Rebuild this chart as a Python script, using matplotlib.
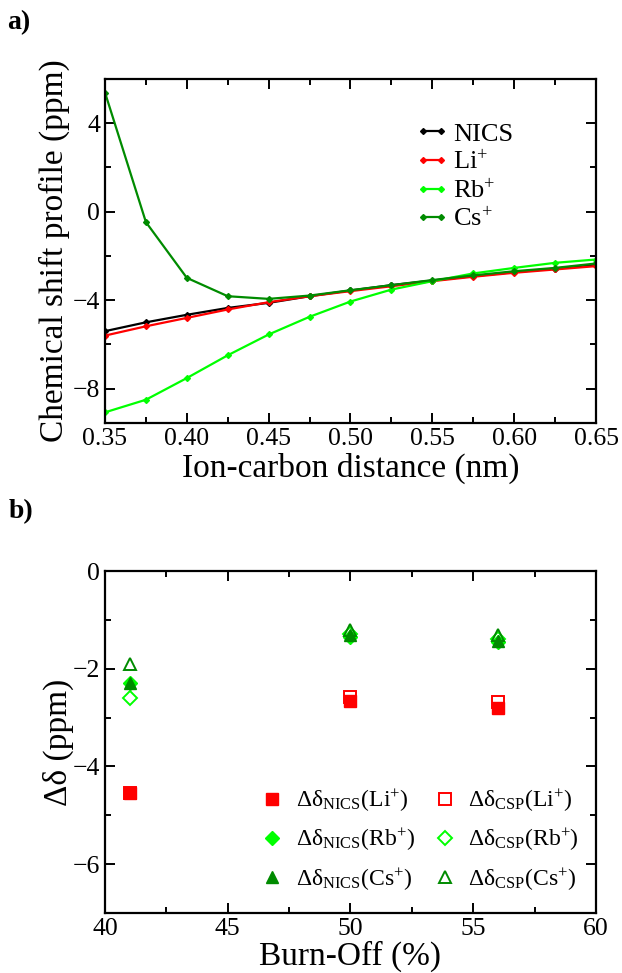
import matplotlib
matplotlib.use('Agg')
import matplotlib.pyplot as plt
from matplotlib.ticker import MultipleLocator

plt.rcParams['font.family'] = ['Liberation Serif', 'DejaVu Serif']
plt.rcParams['mathtext.fontset'] = 'custom'
plt.rcParams['mathtext.rm'] = 'Liberation Serif'
plt.rcParams['mathtext.it'] = 'Liberation Serif:italic'

# panel a: chemical shift profile vs ion-carbon distance
distance = [0.35, 0.375, 0.40, 0.425, 0.45, 0.475, 0.50, 0.525, 0.55, 0.575, 0.60, 0.625, 0.65]
nics = [-5.40, -5.00, -4.66, -4.35, -4.12, -3.82, -3.56, -3.32, -3.11, -2.91, -2.73, -2.57, -2.38]
li = [-5.60, -5.18, -4.80, -4.42, -4.09, -3.82, -3.59, -3.37, -3.14, -2.94, -2.76, -2.61, -2.46]
rb = [-9.07, -8.50, -7.52, -6.49, -5.55, -4.75, -4.06, -3.52, -3.14, -2.79, -2.54, -2.31, -2.16]
cs = [5.39, -0.47, -2.99, -3.82, -3.94, -3.79, -3.55, -3.32, -3.09, -2.88, -2.69, -2.54, -2.34]

# panel b: delta delta vs burn-off
burnoff = [41, 50, 56]
nics_li = [-4.55, -2.67, -2.80]
csp_li = [-4.55, -2.57, -2.69]
nics_rb = [-2.30, -1.35, -1.46]
csp_rb = [-2.59, -1.28, -1.40]
nics_cs = [-2.29, -1.31, -1.43]
csp_cs = [-1.90, -1.20, -1.31]

RED = '#ff0000'
LIME = '#00ff00'
DKGREEN = '#008b00'


def style_axes(ax):
    for s in ax.spines.values():
        s.set_linewidth(1.6)
    ax.tick_params(which='both', direction='in', top=True, right=True,
                   labelsize=18.5, width=1.4)
    ax.tick_params(which='major', length=7)
    ax.tick_params(which='minor', length=4.5)


fig = plt.figure(figsize=(6.22, 9.73), dpi=100)

ax1 = fig.add_axes([0.1688, 0.5653, 0.7894, 0.3535])
ax1.plot(distance, nics, '-D', color='black', lw=1.6, ms=3, label='NICS')
ax1.plot(distance, li, '-D', color=RED, lw=1.6, ms=3, label='Li$^{+}$')
ax1.plot(distance, rb, '-D', color=LIME, lw=1.6, ms=3, label='Rb$^{+}$')
ax1.plot(distance, cs, '-D', color=DKGREEN, lw=1.6, ms=3, label='Cs$^{+}$')
ax1.set_xlim(0.35, 0.65)
ax1.set_ylim(-9.55, 6.0)
ax1.xaxis.set_major_locator(MultipleLocator(0.05))
ax1.xaxis.set_minor_locator(MultipleLocator(0.025))
ax1.yaxis.set_major_locator(MultipleLocator(4))
ax1.yaxis.set_minor_locator(MultipleLocator(2))
ax1.xaxis.set_major_formatter(plt.FormatStrFormatter('%.2f'))
style_axes(ax1)
ax1.set_xlabel('Ion-carbon distance (nm)', fontsize=24, labelpad=2)
ax1.set_ylabel('Chemical shift profile (ppm)', fontsize=24, labelpad=2)
ax1.legend(loc='upper left', bbox_to_anchor=(0.61, 0.905), frameon=False,
           fontsize=19, numpoints=2, handlelength=1.3, handletextpad=0.15,
           labelspacing=0.17, borderaxespad=0)

ax2 = fig.add_axes([0.1688, 0.0617, 0.7894, 0.3514])
ms = 8.5
ax2.plot(burnoff, csp_li, 's', ls='none', mfc='none', mec=RED, mew=1.4, ms=ms)
ax2.plot(burnoff, nics_li, 's', ls='none', color=RED, ms=ms)
ax2.plot(burnoff, nics_rb, 'D', ls='none', color=LIME, ms=ms - 1.5)
ax2.plot(burnoff, csp_rb, 'D', ls='none', mfc='none', mec=LIME, mew=1.4, ms=ms - 1.5)
ax2.plot(burnoff, nics_cs, '^', ls='none', color=DKGREEN, ms=ms)
ax2.plot(burnoff, csp_cs, '^', ls='none', mfc='none', mec=DKGREEN, mew=1.4, ms=ms)

# legend handles in the order of the reference (two columns)
h = []
h.append(ax2.plot([], [], 's', color=RED, ms=ms, label='Δδ$_{\\mathrm{NICS}}$(Li$^{+}$)')[0])
h.append(ax2.plot([], [], 'D', color=LIME, ms=ms - 1.5, label='Δδ$_{\\mathrm{NICS}}$(Rb$^{+}$)')[0])
h.append(ax2.plot([], [], '^', color=DKGREEN, ms=ms, label='Δδ$_{\\mathrm{NICS}}$(Cs$^{+}$)')[0])
h.append(ax2.plot([], [], 's', mfc='none', mec=RED, mew=1.4, ms=ms, label='Δδ$_{\\mathrm{CSP}}$(Li$^{+}$)')[0])
h.append(ax2.plot([], [], 'D', mfc='none', mec=LIME, mew=1.4, ms=ms - 1.5, label='Δδ$_{\\mathrm{CSP}}$(Rb$^{+}$)')[0])
h.append(ax2.plot([], [], '^', mfc='none', mec=DKGREEN, mew=1.4, ms=ms, label='Δδ$_{\\mathrm{CSP}}$(Cs$^{+}$)')[0])
ax2.legend(handles=h, ncol=2, loc='upper left', bbox_to_anchor=(0.30, 0.395),
           frameon=False, fontsize=17, numpoints=1, handlelength=0.9,
           handletextpad=0.55, columnspacing=0.8, labelspacing=0.55,
           borderaxespad=0)

ax2.set_xlim(40, 60)
ax2.set_ylim(-7, 0)
ax2.xaxis.set_major_locator(MultipleLocator(5))
ax2.xaxis.set_minor_locator(MultipleLocator(2.5))
ax2.yaxis.set_major_locator(MultipleLocator(2))
ax2.yaxis.set_minor_locator(MultipleLocator(1))
style_axes(ax2)
ax2.set_xlabel('Burn-Off (%)', fontsize=24, labelpad=0.5)
ax2.set_ylabel('Δδ (ppm)', fontsize=24, labelpad=-1)

fig.text(0.011, 0.99, 'a)', fontsize=20, fontweight='bold', va='top')
fig.text(0.014, 0.487, 'b)', fontsize=20, fontweight='bold', va='top')

fig.savefig('out.png', dpi=100)
